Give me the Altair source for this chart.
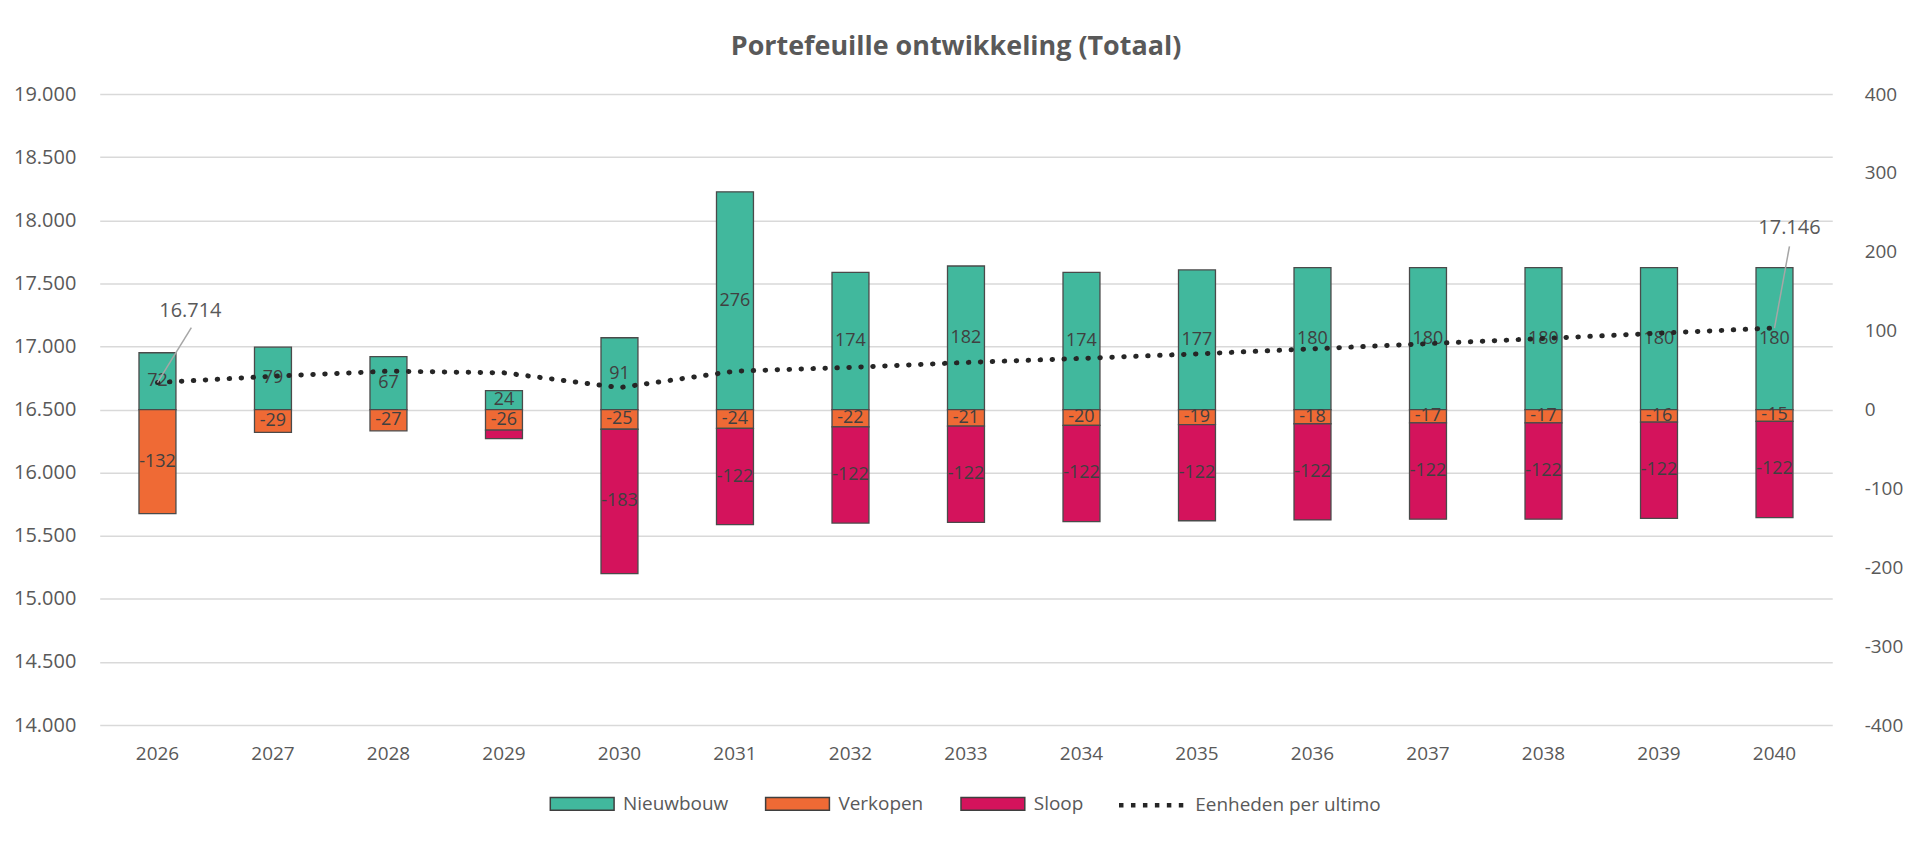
import altair as alt
import pandas as pd

years = [str(y) for y in range(2026, 2041)]
nieuwbouw = [72, 79, 67, 24, 91, 276, 174, 182, 174, 177, 180, 180, 180, 180, 180]
verkopen = [-132, -29, -27, -26, -25, -24, -22, -21, -20, -19, -18, -17, -17, -16, -15]
sloop = [0, 0, 0, -11, -183, -122, -122, -122, -122, -122, -122, -122, -122, -122, -122]
eenheden = [16714, 16764, 16804, 16791, 16674, 16804, 16834, 16873, 16905, 16941,
            16981, 17022, 17063, 17105, 17146]

series_names = ["Nieuwbouw", "Verkopen", "Sloop"]
series_colors = ["#41B89D", "#EF6A35", "#D4135C"]
line_name = "Eenheden per ultimo"

rows = []
for i, y in enumerate(years):
    for k, (name, vals) in enumerate(zip(series_names, [nieuwbouw, verkopen, sloop])):
        rows.append({"year": y, "serie": name, "value": vals[i], "ord": k})
bar_df = pd.DataFrame(rows)
line_df = pd.DataFrame({"year": years, "value": eenheden, "serie": [line_name] * len(years)})

FONT = "Open Sans"
GRAY = "#595959"

x_enc = alt.X(
    "year:N", sort=years,
    scale=alt.Scale(paddingInner=0.68, paddingOuter=0.34),
    axis=alt.Axis(title=None, labelAngle=0, domain=False, ticks=False, grid=False,
                  labelPadding=20, labelFontSize=19, labelColor=GRAY, labelFont=FONT),
)

right_axis = alt.Axis(orient="right", title=None, values=list(range(-400, 401, 100)), format="d",
                      grid=False, domain=False, ticks=False, labelPadding=32, labelAlign="left",
                      labelFontSize=19, labelColor=GRAY, labelFont=FONT)
left_axis = alt.Axis(orient="left", title=None, values=list(range(14000, 19001, 500)), format=",.0f",
                     grid=True, gridColor="#D9D9D9", gridWidth=1.5, domain=False, ticks=False,
                     labelPadding=24, labelFontSize=20, labelColor=GRAY, labelFont=FONT)

bar_scale = alt.Scale(domain=[-400, 400], nice=False)
line_scale = alt.Scale(domain=[14000, 19000], nice=False, zero=False)

bars = alt.Chart(bar_df).transform_filter("datum.value != 0").mark_bar(
    stroke="#4A4A4A", strokeWidth=1.3
).encode(
    x=x_enc,
    y=alt.Y("value:Q", stack="zero", scale=bar_scale, axis=right_axis),
    fill=alt.Fill("serie:N", scale=alt.Scale(domain=series_names, range=series_colors),
                  legend=alt.Legend(orient="none", legendX=451, legendY=679, direction="horizontal",
                                    title=None, symbolType="M-1,-0.2H1V0.2H-1Z", symbolSize=4096,
                                    symbolStrokeColor="#3F3F3F", symbolStrokeWidth=1.5,
                                    labelOffset=8, columnPadding=34, labelFontSize=19,
                                    labelColor=GRAY, labelFont=FONT, labelLimit=300)),
    order=alt.Order("ord:Q", sort="ascending"),
)

labels = alt.Chart(bar_df).transform_filter("abs(datum.value) >= 12").transform_stack(
    stack="value", as_=["v0", "v1"], groupby=["year"], sort=[alt.SortField("ord", order="ascending")]
).transform_calculate(mid="(datum.v0 + datum.v1) / 2").mark_text(
    fontSize=18, color="#404040", font=FONT
).encode(
    x=x_enc,
    y=alt.Y("mid:Q", scale=bar_scale, axis=right_axis),
    text=alt.Text("value:Q", format="d"),
)

line = alt.Chart(line_df).mark_line(
    strokeWidth=5, strokeDash=[0.5, 11.5], strokeCap="round"
).encode(
    x=x_enc,
    y=alt.Y("value:Q", scale=line_scale, axis=left_axis),
    stroke=alt.Stroke("serie:N", scale=alt.Scale(domain=[line_name], range=["#262626"]),
                      legend=alt.Legend(orient="none", legendX=1020, legendY=677, title=None,
                                        symbolType="stroke", symbolSize=4624, symbolStrokeWidth=4.5,
                                        symbolDash=[4.5, 7.5], labelOffset=6, labelFontSize=19,
                                        labelColor=GRAY, labelFont=FONT, labelLimit=300)),
)

first = alt.datum.year == years[0]
last = alt.datum.year == years[-1]

ann1 = alt.Chart(line_df).transform_filter(first).mark_text(
    dx=33, dy=-72, fontSize=20, color=GRAY, font=FONT
).encode(x=x_enc, y=alt.Y("value:Q", scale=line_scale, axis=left_axis),
         text=alt.Text("value:Q", format=",.0f"))
ann2 = alt.Chart(line_df).transform_filter(last).mark_text(
    dx=15, dy=-100, fontSize=20, color=GRAY, font=FONT
).encode(x=x_enc, y=alt.Y("value:Q", scale=line_scale, axis=left_axis),
         text=alt.Text("value:Q", format=",.0f"))

lead1 = alt.Chart(line_df).transform_filter(first).mark_rule(
    color="#A6A6A6", strokeWidth=1.5, x2Offset=34, y2Offset=-55
).encode(x=x_enc, x2="year:N", y=alt.Y("value:Q", scale=line_scale, axis=left_axis), y2="value:Q")
lead2 = alt.Chart(line_df).transform_filter(last).mark_rule(
    color="#A6A6A6", strokeWidth=1.5, x2Offset=15, y2Offset=-82
).encode(x=x_enc, x2="year:N", y=alt.Y("value:Q", scale=line_scale, axis=left_axis), y2="value:Q")

bar_layer = alt.layer(bars, labels)
line_layer = alt.layer(line, lead1, lead2, ann1, ann2)

chart = alt.layer(bar_layer, line_layer).resolve_scale(y="independent").properties(
    width=1738, height=633,
    padding={"left": 92, "top": 85, "right": 80, "bottom": 109},
    autosize=alt.AutoSizeParams(type="none"),
    title=alt.TitleParams("Portefeuille ontwikkeling (Totaal)", fontSize=27, fontWeight="bold",
                          color=GRAY, font=FONT, anchor="middle", baseline="alphabetic",
                          offset=2, dx=-10),
).configure(
    background="white",
    locale={"number": {"decimal": ",", "thousands": ".", "grouping": [3],
                       "currency": ["€", ""], "minus": "-"}},
).configure_view(stroke="transparent", strokeWidth=0)

chart.save("out.html", embed_options={"renderer": "svg", "actions": False})
